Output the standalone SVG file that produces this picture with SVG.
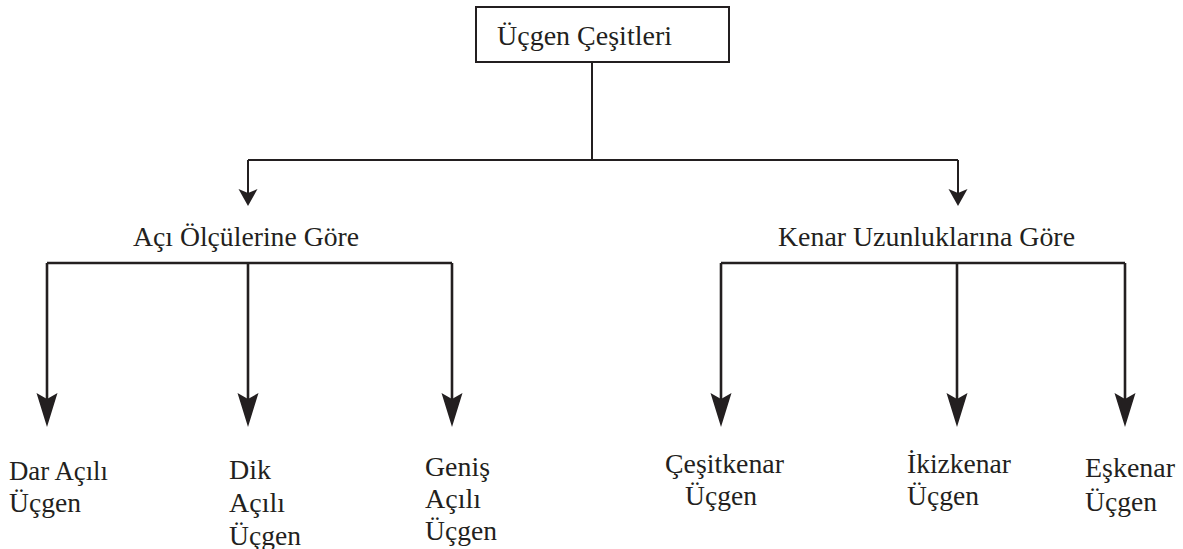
<svg xmlns="http://www.w3.org/2000/svg" width="1183" height="549" viewBox="0 0 1183 549">
<style>
text{font-family:"Liberation Serif","Times New Roman",serif;font-size:27.5px;fill:#231f20}
.box{fill:#fff;stroke:#231f20;stroke-width:2}
.c1{fill:none;stroke:#231f20;stroke-width:2}
.c2{fill:none;stroke:#231f20;stroke-width:2.6}
</style>
<defs>
<marker id="ahS" markerUnits="userSpaceOnUse" markerWidth="30" markerHeight="30" refX="14" refY="0" viewBox="-2 -12 30 24" orient="auto" overflow="visible">
<path d="M0,-9.5 L17,0 L0,9.5 L4,0 Z" fill="#231f20"/>
</marker>
<marker id="ahL" markerUnits="userSpaceOnUse" markerWidth="30" markerHeight="30" refX="14" refY="0" viewBox="-2 -12 30 24" orient="auto" overflow="visible">
<path d="M-10,-10.5 L24,0 L-10,10.5 L-4,0 Z" fill="#231f20"/>
</marker>
</defs>
<rect width="1183" height="549" fill="#fff"/>
<g id="connectors">
<path class="c1" d="M592,62 V160"/>
<path class="c1" d="M248,160 H958"/>
<path class="c1" d="M248,160 V203" marker-end="url(#ahS)"/>
<path class="c1" d="M958,160 V203" marker-end="url(#ahS)"/>
<path class="c2" d="M47,263 H452"/>
<path class="c2" d="M47,263 V417" marker-end="url(#ahL)"/>
<path class="c2" d="M248,263 V417" marker-end="url(#ahL)"/>
<path class="c2" d="M452,263 V417" marker-end="url(#ahL)"/>
<path class="c2" d="M721,263 H1125"/>
<path class="c2" d="M721,263 V417" marker-end="url(#ahL)"/>
<path class="c2" d="M957,263 V417" marker-end="url(#ahL)"/>
<path class="c2" d="M1125,263 V417" marker-end="url(#ahL)"/>
</g>
<g id="root">
<rect class="box" x="476" y="7" width="253" height="55"/>
<text x="497" y="45" textLength="175" lengthAdjust="spacingAndGlyphs">Üçgen Çeşitleri</text>
</g>
<g id="aci">
<text x="133" y="246" textLength="226" lengthAdjust="spacingAndGlyphs">Açı Ölçülerine Göre</text>
</g>
<g id="kenar">
<text x="778" y="246" textLength="297" lengthAdjust="spacingAndGlyphs">Kenar Uzunluklarına Göre</text>
</g>
<g id="dar">
<text x="9" y="480" textLength="99" lengthAdjust="spacingAndGlyphs">Dar Açılı</text>
<text x="9" y="512" textLength="72" lengthAdjust="spacingAndGlyphs">Üçgen</text>
</g>
<g id="dik">
<text x="229" y="479" textLength="42" lengthAdjust="spacingAndGlyphs">Dik</text>
<text x="229" y="512" textLength="56" lengthAdjust="spacingAndGlyphs">Açılı</text>
<text x="229" y="545" textLength="72" lengthAdjust="spacingAndGlyphs">Üçgen</text>
</g>
<g id="genis">
<text x="425" y="476" textLength="65" lengthAdjust="spacingAndGlyphs">Geniş</text>
<text x="425" y="508" textLength="56" lengthAdjust="spacingAndGlyphs">Açılı</text>
<text x="425" y="540" textLength="72" lengthAdjust="spacingAndGlyphs">Üçgen</text>
</g>
<g id="cesitkenar">
<text x="665" y="473" textLength="119" lengthAdjust="spacingAndGlyphs">Çeşitkenar</text>
<text x="685" y="505" textLength="72" lengthAdjust="spacingAndGlyphs">Üçgen</text>
</g>
<g id="ikizkenar">
<text x="907" y="473" textLength="104" lengthAdjust="spacingAndGlyphs">İkizkenar</text>
<text x="907" y="505" textLength="72" lengthAdjust="spacingAndGlyphs">Üçgen</text>
</g>
<g id="eskenar">
<text x="1085" y="477" textLength="90" lengthAdjust="spacingAndGlyphs">Eşkenar</text>
<text x="1085" y="511" textLength="72" lengthAdjust="spacingAndGlyphs">Üçgen</text>
</g>
</svg>
